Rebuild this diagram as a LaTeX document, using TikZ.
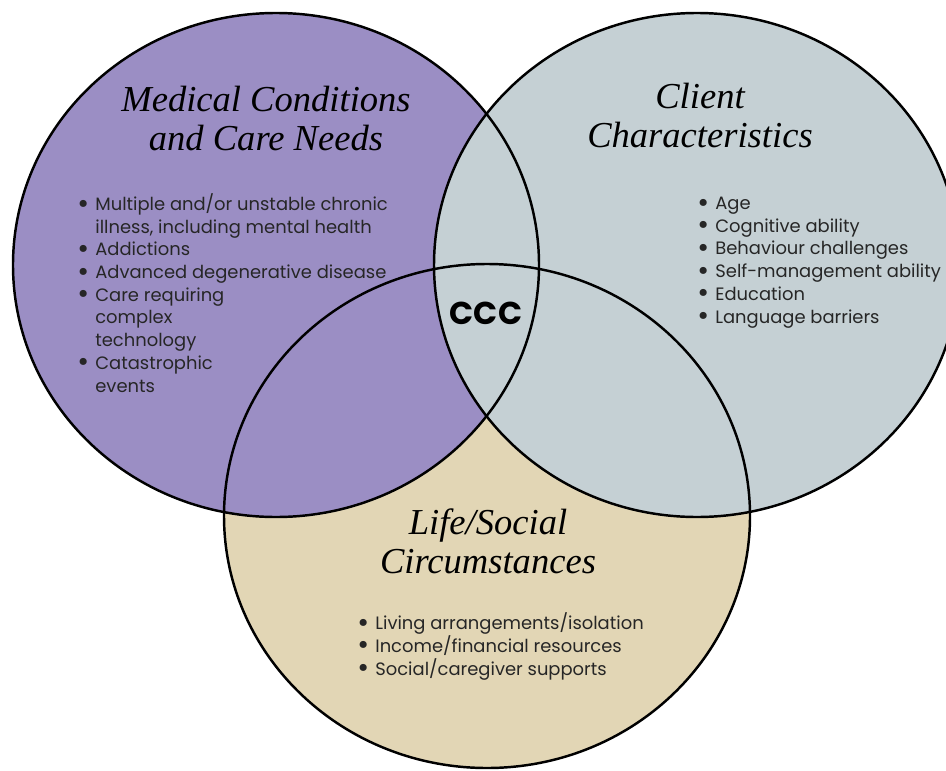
\documentclass[tikz,border=0pt]{standalone}
\usepackage{fontspec}
\usepackage{tkz-euclide}
\newfontfamily\titlefont{Liberation Serif}
\newfontfamily\listfont{Poppins}
\definecolor{medfill}{RGB}{155,142,196}
\definecolor{clientfill}{RGB}{197,208,212}
\definecolor{lifefill}{RGB}{226,214,181}
\newcommand{\bul}{\makebox[0.36cm][l]{\raisebox{-0.25ex}[0pt][0pt]{\scalebox{1.6}{\textbullet}}}}
\newcommand{\ind}{\hspace*{0.36cm}}
\tikzset{
  venn/.style={line width=1.4pt,draw=black},
  heading/.style={font=\titlefont\itshape\fontsize{20.8}{22}\selectfont,align=center,anchor=base},
  items/.style={font=\listfont\fontsize{10.2}{12.9}\selectfont,text=black!85,align=left,anchor=base west,inner sep=0pt}
}
\begin{document}
\begin{tikzpicture}
                \useasboundingbox (0,0) rectangle (18.92,15.4);
                \fill[white] (0,0) rectangle (18.92,15.4);
                \tkzDefPoint(5.52,10.10){M}
                \tkzDefPoint(13.94,10.10){C}
                \tkzDefPoint(9.74,5.08){L}
                % fills: life below, client on top
                \fill[lifefill] (L) ellipse [x radius=5.26cm,y radius=5.04cm];
                \fill[medfill] (M) ellipse [x radius=5.26cm,y radius=5.04cm];
                \fill[clientfill] (C) ellipse [x radius=5.26cm,y radius=5.04cm];
                \draw[venn] (L) ellipse [x radius=5.26cm,y radius=5.04cm];
                \draw[venn] (M) ellipse [x radius=5.26cm,y radius=5.04cm];
                \draw[venn] (C) ellipse [x radius=5.26cm,y radius=5.04cm];
                % headings (anchored at last line)
                \node[heading] (medtitle) at (5.32,12.40) {Medical Conditions\\and Care Needs};
                \node[heading] (clienttitle) at (14.0,12.46) {Client\\Characteristics};
                \node[heading] (lifetitle) at (9.76,3.94) {Life/Social\\Circumstances};
                \node[font=\listfont\bfseries\fontsize{18}{20}\selectfont] (ccc) at (9.72,9.14) {CCC};
                % lists
                \node[items] (medlist) at (1.54,7.56) {\bul Multiple and/or unstable chronic\\
                  \ind illness, including mental health\\
                  \bul Addictions\\
                  \bul Advanced degenerative disease\\
                  \bul Care requiring\\
                  \ind complex\\
                  \ind technology\\
                  \bul Catastrophic\\
                  \ind events};
                \node[items] (clientlist) at (13.94,8.94) {\bul Age\\
                  \bul Cognitive ability\\
                  \bul Behaviour challenges\\
                  \bul Self-management ability\\
                  \bul Education\\
                  \bul Language barriers};
                \node[items] (lifelist) at (7.14,1.90) {\bul Living arrangements/isolation\\
                  \bul Income/financial resources\\
                  \bul Social/caregiver supports};
            \end{tikzpicture}
\end{document}
